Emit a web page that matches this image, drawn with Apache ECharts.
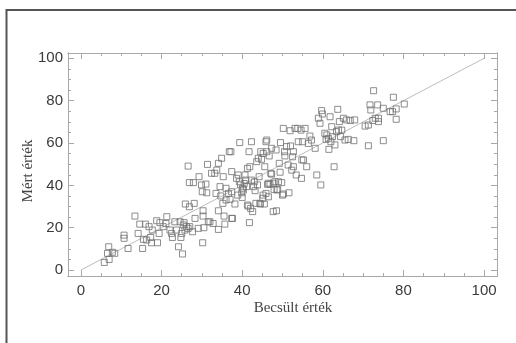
<!DOCTYPE html>
<html>
<head>
<meta charset="utf-8">
<script src="https://cdn.jsdelivr.net/npm/echarts@6/dist/echarts.min.js"></script>
<style>
	html, body { margin: 0; padding: 0; background: #fff; }
	#chart { width: 516px; height: 343px; }
</style>
</head>
<body>
<div id="chart"></div>
<script>
	// becsült (x) és mért (y) értékek
	var becsult = [
		5.8, 6.9, 7.0, 8.4, 10.7, 10.7, 11.7, 13.4, 14.2, 15.3, 15.5, 14.6, 16.0, 16.9, 17.3, 17.5, 17.7, 18.8, 19.0, 19.4,
		19.6, 20.4, 21.3, 21.1, 22.1, 22.5, 22.7, 23.3, 23.7, 24.2, 24.6, 24.8, 25.0, 25.2, 25.4, 25.6, 25.8, 26.2, 26.6, 27.0,
		25.9, 26.6, 26.9, 27.9, 26.9, 27.7, 28.1, 28.3, 29.1, 29.3, 29.9, 30.2, 30.3, 30.3, 30.5, 30.1, 31.0, 31.2, 31.4, 31.6,
		32.0, 32.4, 32.8, 33.2, 33.5, 33.7, 34.1, 34.1, 34.1, 34.5, 34.7, 34.9, 35.2, 35.3, 35.5, 35.7, 36.0, 36.0, 36.6, 36.8,
		37.0, 37.2, 37.4, 37.4, 37.4, 37.6, 38.2, 38.6, 38.9, 39.0, 39.3, 39.4, 39.6, 39.9, 40.0, 40.1, 40.5, 40.7, 40.9, 41.1,
		41.3, 41.5, 41.7, 41.8, 41.9, 42.1, 42.3, 42.3, 42.6, 42.8, 43.0, 43.2, 43.4, 43.6, 43.8, 44.0, 44.2, 44.5, 44.6, 44.8,
		45.1, 45.2, 45.5, 45.6, 45.9, 46.1, 46.1, 46.3, 46.5, 46.7, 46.9, 47.1, 47.3, 47.7, 47.9, 48.1, 48.4, 48.5, 48.8, 49.0,
		49.2, 49.4, 49.5, 49.8, 50.0, 50.2, 50.5, 50.6, 51.0, 51.4, 51.6, 51.9, 52.0, 52.3, 52.5, 52.7, 53.1, 53.4, 53.8, 53.9,
		54.6, 54.7, 55.0, 55.2, 55.6, 56.0, 56.4, 56.8, 57.2, 58.1, 58.5, 58.9, 59.3, 59.5, 59.7, 59.9, 60.5, 60.8, 61.0, 61.4,
		61.5, 61.8, 62.0, 62.2, 62.4, 62.8, 63.0, 63.4, 63.7, 63.9, 64.1, 64.4, 64.7, 65.1, 65.5, 65.9, 66.3, 66.8, 67.7, 67.9,
		70.5, 71.3, 71.7, 71.9, 72.4, 72.6, 73.0, 73.6, 73.8, 73.8, 75.0, 75.0, 76.7, 77.5, 78.2, 78.2, 80.2, 77.3, 45.9, 52.7,
		54.8, 50.2, 41.3, 46.5, 47.7, 48.6, 47.3, 45.2, 44.4, 40.3, 16.3, 71.3, 6.6, 7.8
	];
	var mert = [
		3.6, 11.0, 5.0, 7.9, 16.5, 15.0, 10.2, 25.5, 17.3, 10.2, 14.5, 21.7, 21.7, 20.5, 15.4, 12.9, 18.9, 23.3, 12.9, 17.3,
		22.4, 20.5, 25.2, 22.0, 18.9, 17.3, 15.4, 22.8, 18.9, 11.0, 22.8, 15.4, 17.3, 7.6, 21.3, 22.4, 18.9, 20.5, 19.7, 20.5,
		31.2, 49.1, 41.3, 41.3, 29.9, 18.1, 31.5, 24.4, 19.7, 44.1, 40.2, 12.9, 28.0, 25.5, 20.0, 37.0, 40.6, 36.5, 49.9, 22.8,
		22.8, 45.7, 22.0, 45.7, 36.2, 47.2, 50.4, 28.0, 19.2, 39.4, 35.0, 52.8, 31.5, 44.1, 25.5, 21.7, 38.6, 33.1, 36.2, 55.9,
		33.4, 55.9, 46.5, 37.0, 24.4, 24.4, 31.2, 43.3, 35.4, 44.9, 41.7, 60.2, 40.2, 36.5, 34.3, 38.6, 40.9, 44.9, 42.5, 39.4,
		48.0, 30.2, 55.9, 22.4, 48.8, 29.1, 60.6, 42.5, 27.6, 39.4, 41.7, 37.5, 31.5, 51.2, 40.2, 52.8, 44.1, 31.2, 55.9, 52.3,
		33.9, 55.1, 31.2, 48.8, 36.2, 61.4, 55.9, 40.5, 34.6, 53.9, 40.5, 45.7, 57.5, 27.6, 38.1, 41.7, 56.7, 28.0, 38.1, 41.7,
		50.4, 46.2, 60.2, 41.3, 35.4, 66.9, 55.9, 53.9, 58.3, 49.6, 36.5, 65.8, 58.6, 47.2, 53.5, 55.9, 66.9, 44.9, 66.9, 60.6,
		66.1, 43.3, 60.6, 52.0, 66.9, 48.8, 59.8, 63.3, 61.4, 57.5, 44.9, 71.7, 69.3, 40.2, 75.3, 73.7, 64.6, 61.7, 63.8, 62.2,
		57.0, 72.4, 60.6, 67.7, 63.0, 48.8, 59.1, 65.4, 75.9, 66.1, 70.1, 63.0, 66.1, 71.7, 61.4, 70.9, 61.7, 70.6, 61.1, 70.9,
		68.0, 58.7, 78.0, 75.6, 70.6, 84.7, 71.7, 78.0, 70.1, 71.7, 61.1, 76.4, 74.8, 81.6, 76.1, 71.2, 78.4, 74.8, 60.6, 48.8,
		52.0, 35.9, 30.7, 41.0, 41.0, 37.8, 45.3, 35.4, 31.5, 37.8, 14.2, 68.5, 7.9, 8.4
	];
	var majorTicks = [0, 20, 40, 60, 80, 100];
	var minorTicks = [5, 10, 15, 25, 30, 35, 45, 50, 55, 65, 70, 75, 85, 90, 95];
	var diagonal = [0, 100];

	var axisColor = '#a8a8a8';

	function frameAxis(position, min, max, ticks, len, showLabel) {
		return {
			type: 'value',
			position: position,
			min: min,
			max: max,
			axisLine: { show: true, onZero: false, lineStyle: { color: axisColor, width: 1 } },
			axisTick: { show: true, inside: true, length: len, customValues: ticks, lineStyle: { color: axisColor, width: 1 } },
			axisLabel: {
				show: showLabel,
				customValues: majorTicks,
				color: '#3a3a3a',
				fontSize: 15,
				fontFamily: '"Liberation Sans", Arial, sans-serif',
				margin: position === 'bottom' ? 7 : 5
			},
			splitLine: { show: false }
		};
	}

	var xMin = -3.2, xMax = 103.2;
	var yMin = -2.8, yMax = 102.5;

	var points = becsult.map(function(x, i) {
		return [x, mert[i]];
	});

	var option = {
		animation: false,
		backgroundColor: '#fff',
		grid: { left: 68, right: 19, top: 53, bottom: 67 },
		xAxis: [
			frameAxis('bottom', xMin, xMax, majorTicks, 6, true),
			frameAxis('bottom', xMin, xMax, minorTicks, 3, false),
			frameAxis('top', xMin, xMax, majorTicks, 6, false),
			frameAxis('top', xMin, xMax, minorTicks, 3, false)
		],
		yAxis: [
			frameAxis('left', yMin, yMax, majorTicks, 6, true),
			frameAxis('left', yMin, yMax, minorTicks, 3, false),
			frameAxis('right', yMin, yMax, majorTicks, 6, false),
			frameAxis('right', yMin, yMax, minorTicks, 3, false)
		],
		series: [{
			type: 'line',
			data: [[diagonal[0], diagonal[0]], [diagonal[1], diagonal[1]]],
			symbol: 'none',
			silent: true,
			lineStyle: { color: '#bdbdbd', width: 1 },
			z: 1
		}, {
			type: 'scatter',
			data: points,
			symbol: 'rect',
			symbolSize: 6,
			silent: true,
			itemStyle: { color: 'rgba(0,0,0,0)', borderColor: '#727272', borderWidth: 1 },
			z: 2
		}],
		graphic: [{
			type: 'polyline',
			shape: { points: [[6.5, 343], [6.5, 10], [516, 10]] },
			style: { stroke: '#555', lineWidth: 2, fill: null }
		}, {
			type: 'text',
			x: 293,
			y: 308,
			style: {
				text: 'Becsült érték',
				textAlign: 'center',
				textVerticalAlign: 'middle',
				font: '15px "Liberation Serif", "Times New Roman", serif',
				fill: '#444'
			}
		}, {
			type: 'text',
			x: 28,
			y: 171,
			rotation: Math.PI / 2,
			style: {
				text: 'Mért érték',
				textAlign: 'center',
				textVerticalAlign: 'middle',
				font: '15px "Liberation Serif", "Times New Roman", serif',
				fill: '#444'
			}
		}]
	};

	var chart = echarts.init(document.getElementById('chart'), null, { renderer: 'canvas' });
	chart.setOption(option, true);
</script>
</body>
</html>
